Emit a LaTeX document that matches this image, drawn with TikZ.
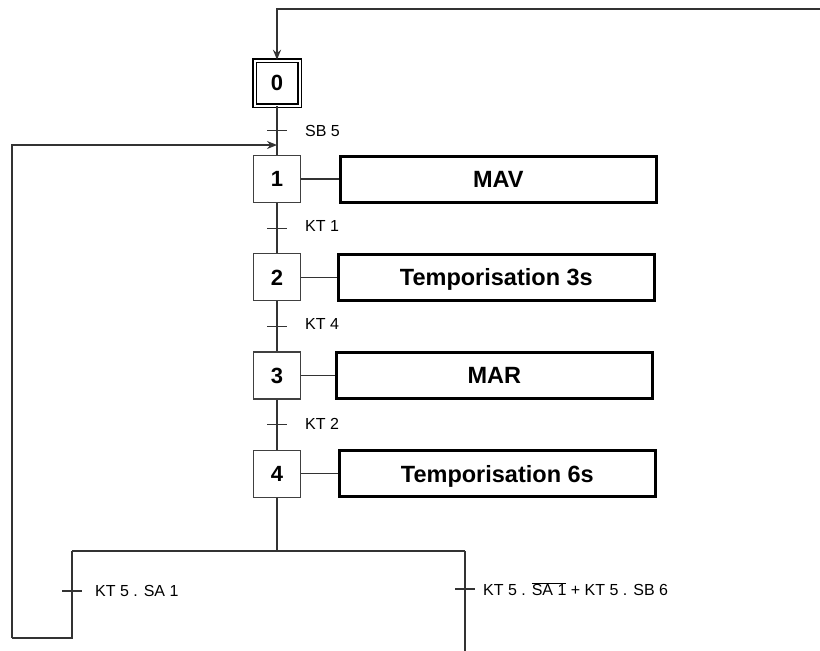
\documentclass[tikz,border=0pt]{standalone}
\usepackage{fontspec}
\setmainfont{Liberation Sans}
\usetikzlibrary{positioning,arrows.meta}

\begin{document}
\begin{tikzpicture}[x=1pt, y=-1pt, node distance=50pt,
    etape/.style={rectangle, draw=black!75, line width=1.1pt, minimum size=47pt, inner sep=0pt, font=\fontsize{22}{26}\selectfont\bfseries},
    initiale/.style={etape, draw=black, line width=1.4pt, double, double distance=2pt, minimum size=45pt},
    action/.style={rectangle, draw, line width=2.6pt, minimum width=316pt, minimum height=46pt, text depth=0pt, font=\fontsize{23.5}{27}\selectfont\bfseries},
    recept/.style={anchor=west, inner sep=0pt, font=\fontsize{16}{19}\selectfont},
    liaison/.style={draw=black!80, line width=1.6pt},
    fleche/.style={liaison, -{Stealth[length=10pt, width=8pt]}}]

    \useasboundingbox (0,0) rectangle (820,651);

    % etapes
    \node [initiale] (s0) at (277,83) {0};
    \node [etape, below=49pt of s0] (s1) {1};
    \node [etape, below=of s1] (s2) {2};
    \node [etape, below=of s2] (s3) {3};
    \node [etape, below=of s3] (s4) {4};

    % actions
    \node [action, right=38pt of s1] (a1) {MAV};
    \node [action, right=36pt of s2] (a2) {Temporisation 3s};
    \node [action, right=34pt of s3] (a3) {MAR};
    \node [action, right=37pt of s4] (a4) {Temporisation 6s};

    \draw[liaison] (s1) -- (a1);
    \draw[liaison] (s2) -- (a2);
    \draw[liaison] (s3) -- (a3);
    \draw[liaison] (s4) -- (a4);

    % transitions
    \path (s0) -- (s1) coordinate[midway] (t0);
    \path (s1) -- (s2) coordinate[midway] (t1);
    \path (s2) -- (s3) coordinate[midway] (t2);
    \path (s3) -- (s4) coordinate[midway] (t3);

    \draw[liaison] (s0) -- (s1);
    \draw[liaison] (s1) -- (s2);
    \draw[liaison] (s2) -- (s3);
    \draw[liaison] (s3) -- (s4);

    \draw[liaison, line width=1.1pt] (t0) +(-10,0) -- +(10,0);
    \draw[liaison, line width=1.1pt] (t1) +(-10,0) -- +(10,0);
    \draw[liaison, line width=1.1pt] (t2) +(-10,0) -- +(10,0);
    \draw[liaison, line width=1.1pt] (t3) +(-10,0) -- +(10,0);

    \node [recept] (r0) at ([xshift=28pt]t0) {SB 5};
    \node [recept] (r1) at ([xshift=28pt, yshift=2pt]t1) {KT 1};
    \node [recept] (r2) at ([xshift=28pt, yshift=2pt]t2) {KT 4};
    \node [recept] (r3) at ([xshift=28pt, yshift=1pt]t3) {KT 2};

    % divergence en OU
    \coordinate (div) at (277,551);
    \coordinate (gauche) at (72,551);
    \coordinate (droite) at (465,551);
    \coordinate (t4) at (72,591);
    \coordinate (t5) at (465,589);
    \coordinate (bas) at (72,638);
    \coordinate (coin) at (12,638);
    \coordinate (entree) at (277,145);
    \coordinate (sortie) at (465,651);
    \coordinate (retour) at (820,9);

    \draw[liaison] (s4) -- (div);
    \draw[liaison] (gauche) -- (droite);
    \draw[liaison] (gauche) -- (bas) -- (coin);
    \draw[fleche] (coin) |- (entree);
    \draw[liaison] (droite) -- (sortie);

    \draw[liaison, line width=1.1pt] (t4) +(-10,0) -- +(10,0);
    \draw[liaison, line width=1.1pt] (t5) +(-10,0) -- +(10,0);
    \node [recept] (r4) at ([xshift=23pt]t4) {KT 5 . SA 1};
    \node [recept] (r5) at ([xshift=18pt]t5) {KT 5 . $\overline{\mbox{SA 1}}$ + KT 5 . SB 6};

    % retour vers l'etape initiale
    \draw[fleche] (retour) -| (s0.north);
\end{tikzpicture}
\end{document}
